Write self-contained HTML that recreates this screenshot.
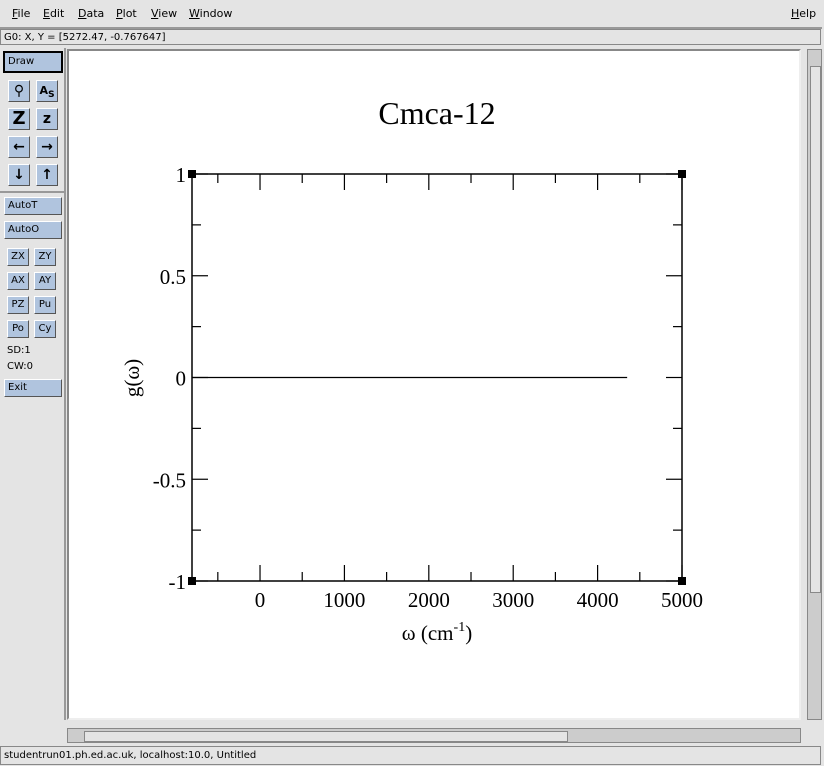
<!DOCTYPE html>
<html><head><meta charset="utf-8"><style>
body{margin:0;width:824px;height:766px;background:#e4e4e4;font-family:"DejaVu Sans","Liberation Sans",sans-serif;font-size:11px;position:relative;overflow:hidden}
.abs{position:absolute}
.menu span{position:absolute;top:7px;font-size:11px}
.btn{position:absolute;background:#b0c4de;border:1px solid;border-color:#fff #555 #555 #fff;font-size:10px;line-height:16px;padding-left:3px;box-sizing:border-box}
.ib{position:absolute;width:22px;height:22px;background:#b0c4de;border:1px solid;border-color:#fff #555 #555 #fff;box-sizing:border-box;text-align:center;font-weight:bold;font-size:14px;line-height:20px}
.sb{position:absolute;width:22px;height:18px;background:#b0c4de;border:1px solid;border-color:#fff #555 #555 #fff;box-sizing:border-box;text-align:center;font-size:10px;line-height:16px}
</style></head><body>
<div class="abs menu" style="left:0;top:0;width:822px;height:27px;border-bottom:2px solid #999">
<span style="left:12px"><u>F</u>ile</span>
<span style="left:43px"><u>E</u>dit</span>
<span style="left:78px"><u>D</u>ata</span>
<span style="left:116px"><u>P</u>lot</span>
<span style="left:151px"><u>V</u>iew</span>
<span style="left:189px"><u>W</u>indow</span>
<span style="left:791px"><u>H</u>elp</span>
</div>
<div class="abs" style="left:0;top:29px;width:821px;height:16px;border:1px solid #888;font-size:10px;line-height:16px;padding-left:3px;box-sizing:border-box">G0: X, Y = [5272.47, -0.767647]</div>
<div class="abs" style="left:0;top:48px;width:66px;height:672px;border-right:2px solid #999;box-sizing:border-box">
<div class="btn" style="left:3px;top:3px;width:60px;height:22px;border:2px solid #000;line-height:18px">Draw</div>
<div class="ib" style="left:8px;top:32px">⚲</div>
<div class="ib" style="left:36px;top:32px;font-size:11px">A<sub>S</sub></div>
<div class="ib" style="left:8px;top:60px;font-size:18px">Z</div>
<div class="ib" style="left:36px;top:60px">z</div>
<div class="ib" style="left:8px;top:88px">←</div>
<div class="ib" style="left:36px;top:88px">→</div>
<div class="ib" style="left:8px;top:116px">↓</div>
<div class="ib" style="left:36px;top:116px">↑</div>
<div class="abs" style="left:0;top:143px;width:64px;border-top:2px solid #999"></div>
<div class="btn" style="left:4px;top:149px;width:58px;height:18px">AutoT</div>
<div class="btn" style="left:4px;top:173px;width:58px;height:18px">AutoO</div>
<div class="sb" style="left:7px;top:200px">ZX</div>
<div class="sb" style="left:34px;top:200px">ZY</div>
<div class="sb" style="left:7px;top:224px">AX</div>
<div class="sb" style="left:34px;top:224px">AY</div>
<div class="sb" style="left:7px;top:248px">PZ</div>
<div class="sb" style="left:34px;top:248px">Pu</div>
<div class="sb" style="left:7px;top:272px">Po</div>
<div class="sb" style="left:34px;top:272px">Cy</div>
<div class="abs" style="left:7px;top:297px;font-size:10px">SD:1</div>
<div class="abs" style="left:7px;top:313px;font-size:10px">CW:0</div>
<div class="btn" style="left:4px;top:331px;width:58px;height:18px">Exit</div>
</div>
<div class="abs" style="left:67px;top:49px;width:734px;height:671px;border:2px solid #888;border-right-color:#eee;border-bottom-color:#eee;box-sizing:border-box;background:#fff"></div>
<div class="abs" style="left:807px;top:49px;width:15px;height:671px;background:#ccc;border:1px solid #888;box-sizing:border-box">
<div class="abs" style="left:2px;top:16px;width:9px;height:525px;background:#e4e4e4;border:1px solid #888"></div></div>
<div class="abs" style="left:67px;top:728px;width:734px;height:15px;background:#ccc;border:1px solid #888;box-sizing:border-box">
<div class="abs" style="left:16px;top:2px;width:482px;height:9px;background:#e4e4e4;border:1px solid #888"></div></div>
<div class="abs" style="left:0;top:746px;width:821px;height:19px;border:1px solid #888;box-sizing:border-box;font-size:10px;line-height:18px;padding-left:3px">studentrun01.ph.ed.ac.uk, localhost:10.0, Untitled</div>
<svg class="abs" style="left:0;top:0" width="824" height="766" id="chart"></svg>
<script>
const xData=[-806,0,1000,2000,3000,4000,4350];
const yData=[0,0,0,0,0,0,0];
const xTicks=[0,1000,2000,3000,4000,5000];
const yTicks=[-1,-0.5,0,0.5,1];
const yTickLabels=["-1","-0.5","0","0.5","1"];
const X0=192,X1=682,Y0=581,Y1=174,XMIN=-806,XMAX=5000,YMIN=-1,YMAX=1;
const sx=v=>X0+(v-XMIN)/(XMAX-XMIN)*(X1-X0);
const sy=v=>Y0-(v-YMIN)/(YMAX-YMIN)*(Y0-Y1);
const svg=document.getElementById('chart');const NS='http://www.w3.org/2000/svg';
function mk(t,a){const e=document.createElementNS(NS,t);for(const k in a)e.setAttribute(k,a[k]);svg.appendChild(e);return e;}
const F='"Liberation Serif",serif';
let e=mk('rect',{x:X0,y:Y1,width:X1-X0,height:Y0-Y1,fill:'none',stroke:'#000','stroke-width':1.5});


for(let v=-500;v<=5000;v+=500){const x=sx(v);const L=(v%1000===0)?16:9;
 e=mk('line',{x1:x,y1:Y0,x2:x,y2:Y0-L,stroke:'#000','stroke-width':1.2});
 
 
 e=mk('line',{x1:x,y1:Y1,x2:x,y2:Y1+L,stroke:'#000','stroke-width':1.2});
 
 }
for(let i=-4;i<=4;i++){const v=i*0.25;const y=sy(v);const L=(i%2===0)?16:9;
 e=mk('line',{x1:X0,y1:y,x2:X0+L,y2:y,stroke:'#000','stroke-width':1.2});
 
 
 e=mk('line',{x1:X1,y1:y,x2:X1-L,y2:y,stroke:'#000','stroke-width':1.2});
 
 }
xTicks.forEach(v=>{e=mk('text',{x:sx(v),y:607,'text-anchor':'middle','font-family':F,'font-size':21});e.textContent=String(v);
 
 });
yTicks.forEach((v,i)=>{e=mk('text',{x:186,y:sy(v)+8,'text-anchor':'end','font-family':F,'font-size':21});e.textContent=yTickLabels[i];
 
 });
[[X0,Y1],[X1,Y1],[X0,Y0],[X1,Y0]].forEach(p=>{e=mk('rect',{x:p[0]-4,y:p[1]-4,width:8,height:8,fill:'#000'});
 
 });
e=mk('polyline',{points:xData.map((v,i)=>sx(v)+','+sy(yData[i])).join(' '),fill:'none',stroke:'#000','stroke-width':1.2});


e=mk('text',{x:437,y:124,'text-anchor':'middle','font-family':F,'font-size':32});e.textContent='Cmca-12';


e=mk('text',{x:437,y:640,'text-anchor':'middle','font-family':F,'font-size':21});
e.innerHTML='ω (cm<tspan dy="-9" font-size="14">-1</tspan><tspan dy="9">)</tspan>';


e=mk('text',{x:0,y:0,'text-anchor':'middle','font-family':F,'font-size':21,transform:'translate(139,378) rotate(-90)'});e.textContent='g(ω)';


</script>
</body></html>
